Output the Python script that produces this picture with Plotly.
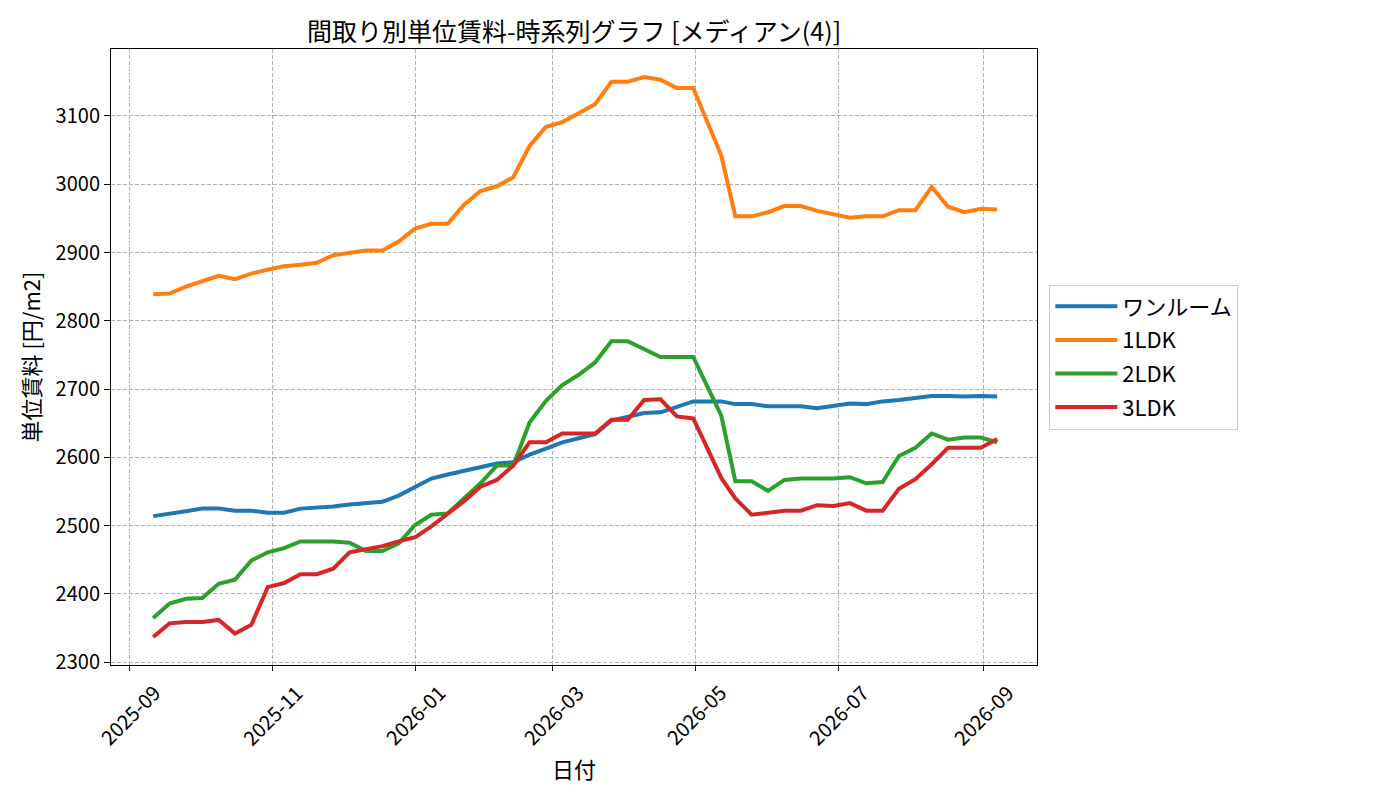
import plotly.graph_objects as go

dates = [
    "2025-09-11", "2025-09-18", "2025-09-25", "2025-10-02", "2025-10-09", "2025-10-16",
    "2025-10-23", "2025-10-30", "2025-11-06", "2025-11-13", "2025-11-20", "2025-11-27",
    "2025-12-04", "2025-12-11", "2025-12-18", "2025-12-25", "2026-01-01", "2026-01-08",
    "2026-01-15", "2026-01-22", "2026-01-29", "2026-02-05", "2026-02-12", "2026-02-19",
    "2026-02-26", "2026-03-05", "2026-03-12", "2026-03-19", "2026-03-26", "2026-04-02",
    "2026-04-09", "2026-04-16", "2026-04-23", "2026-04-30", "2026-05-12", "2026-05-18",
    "2026-05-25", "2026-06-01", "2026-06-08", "2026-06-15", "2026-06-22", "2026-06-29",
    "2026-07-06", "2026-07-13", "2026-07-20", "2026-07-27", "2026-08-03", "2026-08-10",
    "2026-08-17", "2026-08-24", "2026-08-31", "2026-09-07",
]

one_room = [
    2514, 2517, 2521, 2525, 2525, 2522, 2522, 2519, 2519, 2525, 2526, 2528,
    2531, 2533, 2535, 2544, 2556, 2569, 2575, 2580, 2586, 2591, 2593, 2604,
    2613, 2622, 2628, 2634, 2654, 2659, 2665, 2666, 2674, 2682, 2682, 2678,
    2678, 2675, 2675, 2675, 2672, 2675, 2679, 2678, 2682, 2684, 2687, 2690,
    2690, 2689, 2690, 2689,
]

ldk1 = [
    2839, 2840, 2850, 2858, 2866, 2861, 2869, 2875, 2880, 2882, 2885, 2896,
    2900, 2903, 2903, 2916, 2935, 2942, 2942, 2970, 2990, 2997, 3010, 3056,
    3084, 3091, 3104, 3117, 3150, 3150, 3157, 3153, 3141, 3141, 3042, 2953,
    2953, 2959, 2968, 2968, 2961, 2956, 2951, 2953, 2953, 2962, 2962, 2996,
    2967, 2959, 2964, 2963,
]

ldk2 = [
    2365, 2386, 2393, 2394, 2415, 2421, 2449, 2461, 2467, 2477, 2477, 2477,
    2475, 2463, 2463, 2474, 2501, 2516, 2518, 2540, 2562, 2588, 2588, 2651,
    2683, 2706, 2721, 2739, 2770, 2770, 2758, 2747, 2747, 2747, 2661, 2565,
    2565, 2551, 2567, 2569, 2569, 2569, 2571, 2562, 2564, 2602, 2614, 2635,
    2626, 2629, 2629, 2622,
]

ldk3 = [
    2337, 2357, 2359, 2359, 2362, 2342, 2355, 2410, 2416, 2429, 2429, 2437,
    2461, 2466, 2470, 2477, 2483, 2499, 2517, 2536, 2557, 2567, 2588, 2622,
    2622, 2635, 2635, 2635, 2655, 2655, 2684, 2685, 2660, 2657, 2570, 2540,
    2516, 2519, 2522, 2522, 2530, 2529, 2533, 2522, 2522, 2554, 2568, 2590,
    2614, 2614, 2614, 2627,
]

series_names = ["ワンルーム", "1LDK", "2LDK", "3LDK"]
series_values = [one_room, ldk1, ldk2, ldk3]
series_colors = ["#1f77b4", "#ff7f0e", "#2ca02c", "#d62728"]

x_tick_dates = ["2025-09-01", "2025-11-01", "2026-01-01", "2026-03-01",
                "2026-05-01", "2026-07-01", "2026-09-01"]
x_tick_labels = ["2025-09", "2025-11", "2026-01", "2026-03",
                 "2026-05", "2026-07", "2026-09"]
y_tick_vals = [2300, 2400, 2500, 2600, 2700, 2800, 2900, 3000, 3100]

FONT = "Noto Sans CJK JP"
W, H = 1392, 792  # page body adds an 8px margin

fig = go.Figure()
for i, (name, vals, col) in enumerate(zip(series_names, series_values, series_colors)):
    fig.add_trace(go.Scatter(
        x=dates, y=vals, mode="lines", name=name,
        line=dict(color=col, width=4),
        legendgroup=f"g{i}",
    ))

annotations = []
for d, lab in zip(x_tick_dates, x_tick_labels):
    annotations.append(dict(
        x=d, y=0, xref="x", yref="paper", text=lab, showarrow=False,
        textangle=-45, xanchor="center", yanchor="top", yshift=-10,
        font=dict(family=FONT, size=20, color="black"),
    ))
annotations.append(dict(
    x=0.5, y=0, xref="paper", yref="paper", text="日付", showarrow=False,
    xanchor="center", yanchor="middle", yshift=-103,
    font=dict(family=FONT, size=22, color="black"),
))

fig.update_layout(
    width=W, height=H,
    margin=dict(l=103, r=363, t=41, b=135),
    paper_bgcolor="white", plot_bgcolor="white",
    font=dict(family=FONT, size=20, color="black"),
    title=dict(
        text="間取り別単位賃料-時系列グラフ [メディアン(4)]",
        x=0.5, xref="paper", xanchor="center",
        y=1 - 24 / H, yref="container", yanchor="middle",
        font=dict(family=FONT, size=25, color="black"),
    ),
    legend=dict(
        x=1.0133, xanchor="left", y=0.5, yanchor="middle",
        bgcolor="white", bordercolor="#cccccc", borderwidth=1,
        font=dict(family=FONT, size=22, color="black"),
        tracegroupgap=2, traceorder="grouped", itemwidth=62,
    ),
    annotations=annotations,
    showlegend=True,
)

fig.update_xaxes(
    type="date",
    range=["2025-08-23 23:00", "2026-09-24 01:00"],
    tickvals=x_tick_dates, showticklabels=False,
    ticks="outside", ticklen=5, tickcolor="black", tickwidth=1,
    showline=True, linecolor="black", linewidth=1, mirror=True,
    showgrid=True, gridcolor="#b0b0b0", gridwidth=1, griddash="4px,2px",
    zeroline=False,
)
fig.update_yaxes(
    range=[2296, 3198],
    tickvals=y_tick_vals,
    tickfont=dict(family=FONT, size=20, color="black"),
    ticks="outside", ticklen=6, tickcolor="black", tickwidth=1,
    showline=True, linecolor="black", linewidth=1, mirror=True,
    showgrid=True, gridcolor="#b0b0b0", gridwidth=1, griddash="4px,2px",
    zeroline=False,
    title=dict(text="単位賃料 [円/m2]", standoff=8,
               font=dict(family=FONT, size=22, color="black")),
    automargin=False,
)

fig.write_html("out.html")
